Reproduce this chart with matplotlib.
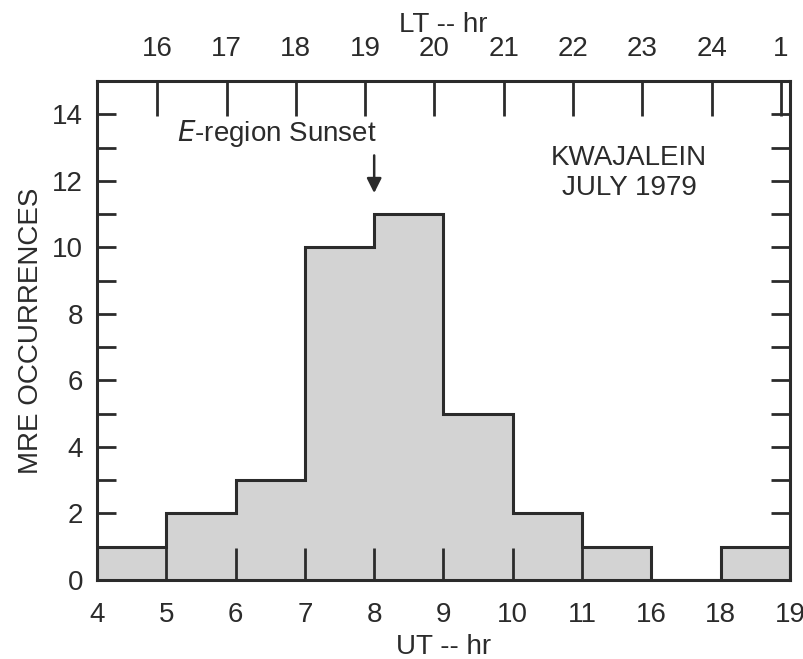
import matplotlib.pyplot as plt
import numpy as np

plt.rcParams['font.family'] = ['Liberation Sans', 'DejaVu Sans']

# UT bin edges (unevenly spaced hours, drawn on equal-width bins)
ut_edges = ['4', '5', '6', '7', '8', '9', '10', '11', '16', '18', '19']
counts = [1, 2, 3, 10, 11, 5, 2, 1, 0, 1]
lt_labels = ['16', '17', '18', '19', '20', '21', '22', '23', '24', '1']
lt_offset = 0.87   # local time lead inside each UT bin

line_c = '#2b2b2b'
text_c = '#2b2b2b'
fs = 20

fig = plt.figure(figsize=(8.04, 6.59), dpi=100)
ax = fig.add_axes([0.1206, 0.1199, 0.862, 0.757])

x = np.arange(len(ut_edges))
ax.stairs(counts, x, fill=True, color='#d3d3d3', zorder=1)
ax.stairs(counts, x, color=line_c, linewidth=2.2, baseline=0, zorder=2)

ax.set_xlim(0, len(ut_edges) - 1)
ax.set_ylim(0, 15)

ax.set_xticks(x)
ax.set_xticklabels(ut_edges)
ax.set_yticks(np.arange(0, 15, 2))
ax.set_yticks(np.arange(1, 15, 2), minor=True)

ax.tick_params(axis='x', direction='in', length=23, width=2, colors=line_c,
               labelsize=fs, labelcolor=text_c, pad=16)
ax.tick_params(axis='y', which='both', direction='in', length=14, width=2,
               colors=line_c, labelsize=fs, labelcolor=text_c, right=True, pad=10)
for s in ax.spines.values():
    s.set_linewidth(2.2)
    s.set_color(line_c)

ax.set_xlabel('UT -- hr', fontsize=fs, color=text_c, labelpad=4)
ax.set_ylabel('MRE OCCURRENCES', fontsize=fs, color=text_c, labelpad=6)

# local time axis on top
top = ax.twiny()
top.set_xlim(ax.get_xlim())
top.set_xticks([k + lt_offset for k in range(len(lt_labels))])
top.set_xticklabels(lt_labels)
top.tick_params(axis='x', direction='in', length=25, width=2, colors=line_c,
                labelsize=fs, labelcolor=text_c, pad=14)
for s in top.spines.values():
    s.set_visible(False)
top.set_xlabel('LT -- hr', fontsize=fs, color=text_c, labelpad=3)

ax.text(2.6, 13.43, r'$\it{E}$' + '-region Sunset', fontsize=fs, color=text_c,
        ha='center', va='center', math_fontfamily='dejavusans')
ax.annotate('', xy=(4, 11.55), xytext=(4, 12.85),
            arrowprops=dict(arrowstyle='-|>', color=line_c, lw=1.8,
                            mutation_scale=22))
ax.text(7.68, 12.23, 'KWAJALEIN\nJULY 1979', fontsize=fs, color=text_c,
        ha='center', va='center', linespacing=1.2)

plt.savefig('out.png', dpi=100)
